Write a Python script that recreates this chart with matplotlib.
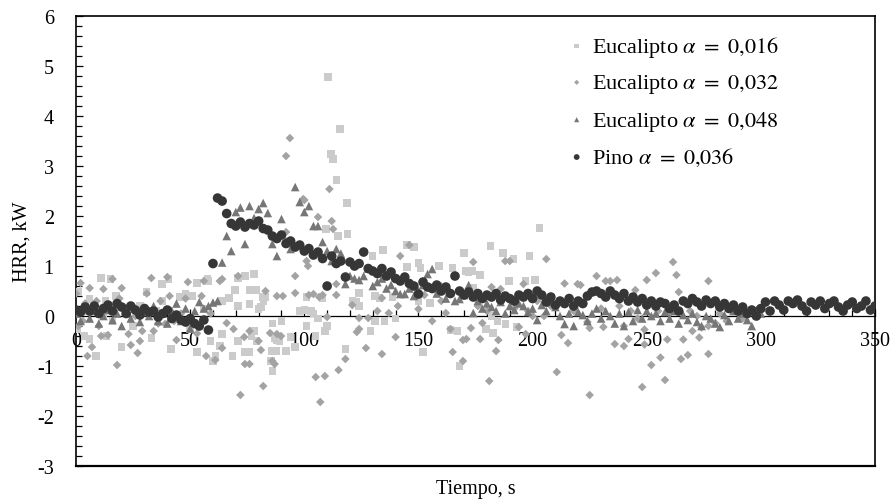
import numpy as np
import matplotlib
matplotlib.use("Agg")
import matplotlib.pyplot as plt
from matplotlib.ticker import MultipleLocator

plt.rcParams['font.family'] = ['Liberation Serif', 'DejaVu Serif']
plt.rcParams['mathtext.fontset'] = 'stix'
plt.rcParams['axes.unicode_minus'] = False

# Pino alpha = 0,036 (one reading every 2 s)
pino_t = np.arange(0, 351, 2)
pino_hrr = [
    0.12, 0.08, 0.18, 0.10, 0.20, 0.05, 0.15, 0.22, 0.10, 0.25,
    0.18, 0.05, 0.20, 0.12, 0.02, 0.15, 0.08, 0.10, -0.02, 0.05,
    0.12, -0.05, 0.02, -0.08, -0.12, -0.05, -0.15, -0.20, -0.08, -0.28,
    1.05, 2.36, 2.30, 2.05, 1.85, 1.80, 1.88, 1.78, 1.85, 1.82,
    1.90, 1.75, 1.72, 1.60, 1.55, 1.62, 1.45, 1.50, 1.38, 1.42,
    1.30, 1.35, 1.22, 1.28, 1.15, 0.60, 1.20, 1.05, 1.10, 0.78,
    1.08, 1.00, 1.05, 1.28, 0.95, 0.90, 0.85, 0.95, 0.80, 0.88,
    0.75, 0.70, 0.78, 0.65, 0.60, 0.44, 0.68, 0.58, 0.55, 0.62,
    0.50, 0.58, 0.45, 0.80, 0.50, 0.42, 0.48, 0.38, 0.45, 0.35,
    0.42, 0.38, 0.45, 0.32, 0.40, 0.35, 0.30, 0.42, 0.38, 0.45,
    0.35, 0.50, 0.42, 0.28, 0.38, 0.22, 0.30, 0.25, 0.35, 0.20,
    0.30, 0.25, 0.40, 0.48, 0.50, 0.45, 0.38, 0.50, 0.42, 0.35,
    0.45, 0.30, 0.38, 0.28, 0.35, 0.22, 0.30, 0.20, 0.28, 0.25,
    0.15, 0.22, 0.10, 0.30, 0.25, 0.35, 0.28, 0.20, 0.32, 0.25,
    0.30, 0.18, 0.25, 0.15, 0.22, 0.10, 0.18, 0.05, 0.12, 0.00,
    0.15, 0.28, 0.10, 0.30, 0.22, 0.12, 0.30, 0.25, 0.32, 0.20,
    0.10, 0.28, 0.22, 0.30, 0.15, 0.25, 0.30, 0.18, 0.10, 0.22,
    0.28, 0.15, 0.20, 0.30, 0.12, 0.20,
]

# Eucalipto alpha = 0,048 (one reading every 2 s)
euc048_t = np.arange(0, 301, 2)
euc048_hrr = [
    0.05, -0.10, 0.15, -0.05, 0.10, -0.15, 0.00, 0.12, -0.08, 0.05,
    -0.20, 0.10, -0.05, 0.15, -0.12, 0.08, 0.00, 0.20, -0.10, 0.05,
    -0.15, 0.10, 0.25, -0.10, 0.15, -0.25, 0.10, 0.28, 0.15, 0.20,
    0.27, 0.30, 1.07, 1.60, 1.30, 2.08, 2.17, 1.44, 2.20, 1.96,
    2.14, 2.26, 2.06, 1.44, 1.20, 1.94, 1.50, 1.34, 2.58, 2.28,
    2.08, 2.20, 1.80, 1.80, 1.48, 1.30, 1.10, 1.34, 1.25, 0.64,
    0.80, 0.75, 0.72, 0.80, 0.95, 0.60, 0.68, 0.75, 0.55, 0.62,
    0.50, 0.44, 0.44, 0.55, 0.40, 0.50, 0.62, 0.84, 0.94, 0.45,
    0.60, 0.35, 0.48, 0.30, 0.34, 0.42, 0.62, 0.06, 0.30, 0.15,
    0.25, 0.18, 0.10, 0.28, 0.05, 0.20, 0.12, 0.25, 0.20, 0.08,
    0.15, -0.08, 0.22, 0.10, 0.28, 0.18, 0.00, -0.16, 0.05, -0.20,
    0.08, 0.02, -0.10, 0.05, 0.15, -0.05, 0.10, 0.00, -0.15, 0.05,
    -0.20, 0.08, -0.10, 0.12, -0.05, 0.10, 0.00, 0.05, -0.10, 0.08,
    -0.05, 0.10, -0.15, 0.02, -0.08, 0.05, -0.12, -0.20, 0.00, -0.05,
    -0.15, -0.22, 0.02, -0.10, 0.10, -0.05, 0.05, -0.08, -0.20, 0.12,
    0.05,
]

# Eucalipto alpha = 0,032
euc032_t = [
    0, 1, 2, 3, 4, 5, 6, 7, 9, 10, 11, 12, 14, 16, 18, 19, 20, 22, 23, 24,
    26, 27, 28, 29, 31, 33, 34, 36, 37, 39, 40, 41, 43, 44, 46, 48, 49, 51, 53, 55,
    56, 57, 59, 61,
    63, 64, 64, 66, 69, 71, 72, 73.7, 74, 76, 76, 80, 81, 82, 83, 85, 86, 87, 88, 88,
    89.8, 90.6, 92, 92, 93.7, 96, 96, 99.5, 100, 101, 101.6, 102, 104, 105, 106, 106.5,
    107, 108, 109, 110, 111, 112, 112.6, 114, 114, 115, 118, 121, 123, 124, 124, 127,
    128, 132, 134, 134, 137, 140, 141, 142, 146, 150, 152.6, 156, 160, 162, 164, 165,
    169.5, 169.5,
    171, 173, 174, 176, 177, 178, 180, 181, 182, 184, 185, 186, 188, 190, 192, 194,
    196, 197, 198, 200, 202, 205, 206, 208, 210.6, 212.6, 214, 215.5, 218, 219.7, 221,
    224, 225, 225, 228, 230, 231, 232, 234, 236, 237, 238, 240, 240, 242, 243, 245,
    246, 248, 249, 249, 250, 252, 254, 255, 256, 258, 259, 260, 261.5, 263, 264, 265,
    266, 268, 269, 270, 272, 273, 274, 277, 277, 277, 280, 282, 285, 288, 292,
]
euc032_hrr = [
    0.45, -0.20, 0.66, -0.10, 0.25, -0.80, 0.56, -0.62, 0.30, -0.20, -0.40, 0.54, -0.38, 0.74, -0.98, 0.35, 0.56, 0.15, -0.36, -0.58,
    0.00, -0.74, -0.50, -0.30, 0.45, 0.76, -0.30, -0.15, 0.30, -0.16, 0.78, 0.40, -0.10, -0.48, 0.05, 0.35, 0.68, -0.10, -0.35, 0.40,
    0.70, -0.80, 0.05, -0.88,
    0.70, 0.74, -0.64, -0.14, -0.26, 0.80, -1.58, -0.42, -0.96, -0.30, -0.96, -0.50, -0.68, -1.40, 0.50, -0.34, -0.90, -0.96, 0.40, -0.36,
    -0.40, 0.40, 3.20, 1.68, 3.56, 0.80, 0.46, 2.34, 2.32, 1.10, 1.00, 0.42, 0.44, -1.22, 1.98, 0.38,
    -1.72, 0.42, -1.20, -0.02, 2.54, 1.90, 1.74, 0.64, 0.42, -1.08, -0.86, 0.22, -0.32, -0.04, -0.26, -0.64,
    -0.04, 0.10, 0.36, -0.76, 0.06, -0.42, 0.20, 1.20, 1.42, 0.14, 0.42, -0.10, 0.30, 0.06, -0.26, -0.72,
    -0.48, -0.90,
    -0.46, -0.24, 1.08, 0.20, -0.46, -0.14, 0.10, -1.30, 0.58, -0.70, -0.48, 0.54, 1.10, 1.10, 0.15, -0.22,
    0.64, -0.36, 0.10, 0.00, 0.30, 0.00, 1.14, 0.20, -1.12, -0.38, 0.65, -0.54, 0.10, 0.64, 0.62,
    -0.12, -0.24, -1.58, 0.80, 0.15, -0.22, 0.70, 0.70, -0.56, 0.72, 0.20, -0.20, -0.60, -0.46, 0.10, 0.52,
    -0.05, -1.42, -0.27, -0.57, 0.72, -0.98, 0.86, 0.10, -0.83, -1.28, -0.47, 0.05, 1.08, 0.82, 0.48, -0.86,
    -0.47, -0.78, 0.10, -0.30, 0.00, -0.43, -0.23, 0.70, -0.76, -0.20, -0.14, 0.05, -0.10, 0.10, -0.05,
]

# Eucalipto alpha = 0,016
euc016_t = [
    0.7, 1, 3.6, 5, 6, 6, 8.8, 11, 12, 13, 13.4, 15, 16, 17.5, 20, 22, 25, 28, 31, 33,
    35, 37.6, 38, 40.6, 41.6, 44, 45.5, 48, 50, 51, 53, 53, 56, 57.7, 58, 59, 60, 61,
    63, 64, 64, 67, 68.6, 69.6, 71, 71, 71, 74, 74, 76, 76, 76, 77, 78, 78, 79, 79, 80,
    81, 81.7, 82, 83, 85.4, 85.6, 86, 86, 87, 87.6, 88, 89, 90, 92, 94, 96, 98, 100,
    101, 101, 103, 104, 105, 106, 108, 109, 109.5, 110, 110.4, 111.7, 112.6, 114, 114.8,
    115.6, 118, 118.7, 119, 121, 123, 124, 124,
    129, 130, 131, 131, 133, 134.5, 135, 138.6, 140, 145, 145, 148, 150, 150, 151, 152,
    155, 159, 164, 165, 167, 168, 170, 170.6, 172, 173.5, 174, 177, 179.6, 181.7, 182,
    182.6, 184.5, 187, 188, 189.6, 191.6, 193, 197, 198.6, 201, 203,
]
euc016_hrr = [
    -0.26, 0.48, -0.40, 0.10, 0.34, -0.46, -0.80, 0.76, 0.05, 0.30, -0.40, 0.74, -0.10, 0.40, -0.62, 0.15, -0.20, 0.20, 0.48, -0.44,
    0.10, 0.64, 0.30, 0.74, -0.66, 0.00, 0.38, 0.44, -0.26, 0.40, 0.66, -0.72, 0.15, 0.74, 0.70, -0.50, -0.90, -0.80,
    -0.60, -0.36, 0.30, 0.36, -0.80, 0.52, 0.76, 0.20, -0.50, -0.72, 0.80, 0.52, 0.24, -0.72, -0.40, 0.84, -0.30, 0.52, -0.50, 0.14,
    0.18, 0.38, 0.30, 0.38, -0.90, -0.70, -1.10, -0.15, -0.45, -0.70, -0.48, -0.50, -0.10, -0.70, -0.42, -0.62, 0.10, 0.12,
    0.38, -0.20, 0.10, 0.05, -0.40, -0.05, 0.36, -0.30, 1.74, -0.20, 4.78, 3.24, 3.14, 2.72, 1.60,
    3.74, -0.66, 2.26, 1.64, 0.30, 0.28, 0.46, 0.20,
    -0.30, 1.20, 0.40, -0.10, 0.36, 1.32, -0.10, 0.38, -0.05, 1.42, 0.98, 1.38, 1.06, 0.30, 0.96, -0.72,
    0.26, 1.00, -0.28, 0.96, -0.30, -1.00, 1.26, 0.90, 0.88, 0.90, 0.56, 0.82, -0.26, 1.40, 0.00,
    -0.34, -0.10, 1.26, -0.16, 0.70, 1.14, -0.22, 0.70, 1.20, 0.72, 1.76,
]

fig, ax = plt.subplots(figsize=(8.92, 5.02), dpi=100)
fig.subplots_adjust(left=0.0852, right=0.981, top=0.966, bottom=0.0697)

ax.scatter(euc016_t, euc016_hrr, marker='s', s=28, color='#cbcbcb', edgecolors='none',
           label=r'Eucalipto $\alpha\ =\ 0{,}016$', zorder=3)
ax.scatter(euc032_t, euc032_hrr, marker='D', s=19, color='#a3a3a3', edgecolors='none',
           label=r'Eucalipto $\alpha\ =\ 0{,}032$', zorder=3)
ax.scatter(euc048_t, euc048_hrr, marker='^', s=38, color='#767676', edgecolors='none',
           label=r'Eucalipto $\alpha\ =\ 0{,}048$', zorder=3)
ax.scatter(pino_t, pino_hrr, marker='o', s=48, color='#363636', edgecolors='none',
           label=r'Pino $\alpha\ =\ 0{,}036$', zorder=4)

ax.set_xlim(0, 350)
ax.set_ylim(-3, 6)

# x axis runs along HRR = 0, the bottom edge of the box is drawn separately
ax.spines['bottom'].set_position(('data', 0))
ax.spines['bottom'].set_linewidth(0.9)
ax.plot([0, 1], [0, 0], transform=ax.transAxes, color='black', lw=1.6,
        clip_on=False, zorder=5)
for side in ('left', 'right', 'top'):
    ax.spines[side].set_linewidth(1.2)

ax.xaxis.set_major_locator(MultipleLocator(50))
ax.xaxis.set_minor_locator(MultipleLocator(10))
ax.yaxis.set_major_locator(MultipleLocator(1))
ax.yaxis.set_minor_locator(MultipleLocator(0.2))
ax.tick_params(axis='x', which='major', direction='in', length=5, width=0.9,
               labelsize=14.5, pad=11)
ax.tick_params(axis='x', which='minor', direction='in', length=4, width=0.9)
ax.tick_params(axis='y', which='major', direction='in', length=5, width=0.9,
               labelsize=14.5, pad=16)
ax.tick_params(axis='y', which='minor', direction='in', length=4, width=0.9)

ax.set_xlabel('Tiempo, s', fontsize=14.5)
ax.xaxis.set_label_coords(0.5, -0.028, transform=ax.transAxes)
ax.set_ylabel('HRR, kW', fontsize=14.5, labelpad=4)

ax.legend(loc='upper left', bbox_to_anchor=(0.596, 1.0), frameon=False,
          fontsize=16, markerscale=0.6, handlelength=0.6, handletextpad=0.4,
          labelspacing=0.6, borderaxespad=0.4)

fig.savefig('out.png', dpi=100)
